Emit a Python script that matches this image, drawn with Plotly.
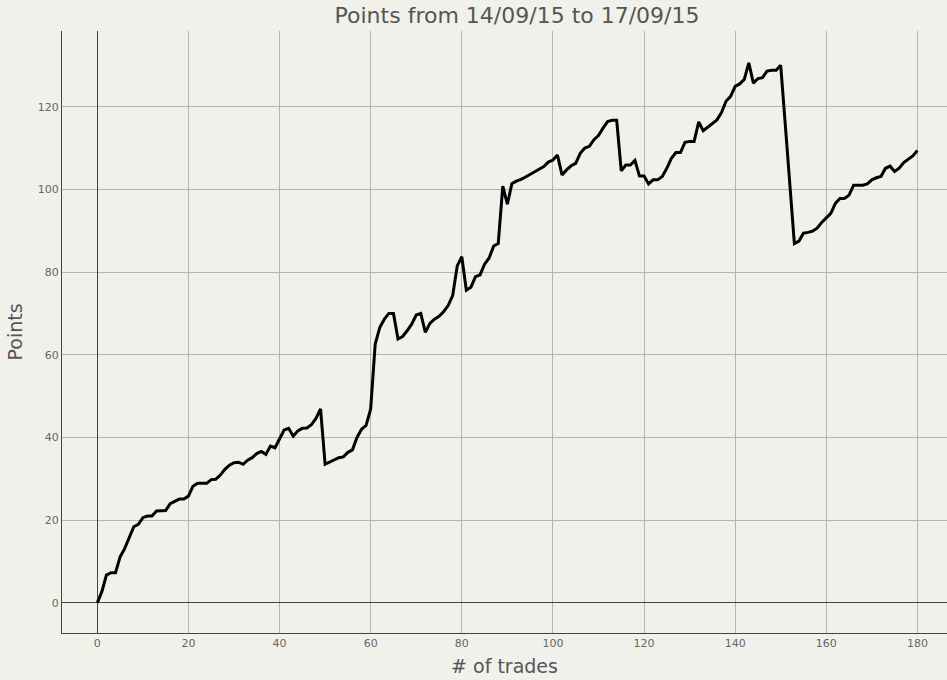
import plotly.graph_objects as go

trades = list(range(0, 181))

points = [
    0, 2.7, 6.7, 7.3, 7.3, 11.1, 13.1, 16, 18.4, 19,
    20.6, 21, 21, 22.2, 22.3, 22.3, 24, 24.6, 25.1, 25.1,
    25.8, 28.2, 28.9, 28.9, 28.9, 29.8, 29.9, 30.9, 32.3, 33.3,
    33.9, 34, 33.5, 34.5, 35.1, 36.1, 36.6, 35.9, 37.9, 37.5,
    39.5, 41.8, 42.2, 40.3, 41.6, 42.2, 42.3, 43.1, 44.6, 46.9,
    33.5, 34, 34.6, 35.1, 35.3, 36.4, 37, 40, 42, 42.9,
    46.9, 62.6, 66.6, 68.6, 70, 70, 63.8, 64.4, 65.8, 67.4,
    69.6, 70, 65.4, 67.6, 68.6, 69.3, 70.4, 71.9, 74.3, 81.5,
    83.7, 75.6, 76.3, 78.9, 79.3, 81.9, 83.4, 86.3, 86.9, 100.8,
    96.4, 101.4, 102, 102.4, 103, 103.6, 104.2, 104.7, 105.5, 106.6,
    107.1, 108.3, 103.5, 104.7, 105.7, 106.3, 108.7, 110, 110.4, 112,
    113, 114.8, 116.4, 116.7, 116.7, 104.5, 105.9, 105.9, 107, 103.2,
    103.2, 101.3, 102.3, 102.3, 103.1, 105.1, 107.5, 108.9, 108.9, 111.4,
    111.6, 111.6, 116.3, 114.2, 115, 115.9, 116.8, 118.6, 121.3, 122.5,
    124.9, 125.5, 126.6, 130.6, 125.7, 126.8, 127, 128.6, 128.8, 128.8,
    130, 115.7, 101.3, 86.9, 87.5, 89.4, 89.6, 89.9, 90.6, 92,
    93.1, 94.2, 96.6, 97.8, 97.8, 98.6, 101, 101, 101, 101.3,
    102.3, 102.8, 103.1, 105.1, 105.6, 104.3, 105.1, 106.5, 107.3, 108.1,
    109.4,
]

title_text = "Points from 14/09/15 to 17/09/15"

bg = "#f1f1ec"
font_family = "DejaVu Sans, Verdana, sans-serif"

trace = go.Scatter(x=trades, y=points, mode="lines",
                   line=dict(color="black", width=3), showlegend=False)

fig = go.Figure(data=[trace])
fig.update_layout(
    width=947, height=680,
    paper_bgcolor=bg, plot_bgcolor=bg,
    margin=dict(l=62, r=0, t=31, b=47),
    font=dict(family=font_family, color="#555555"),
    title=dict(text=title_text, x=0.546, xanchor="center", y=0.978, yanchor="middle",
               font=dict(size=22, color="#555555")),
)
fig.update_xaxes(
    range=[-7.75, 186.5], dtick=20, showgrid=True, gridcolor="#b5b5b5", gridwidth=1,
    zeroline=True, zerolinecolor="#444444", zerolinewidth=1,
    showline=True, linecolor="#444444", linewidth=1, ticks="",
    tickfont=dict(size=11, color="#666666"),
    title=dict(text="# of trades", font=dict(size=19, color="#555555"), standoff=10),
)
fig.update_yaxes(
    range=[-7.3, 138.3], dtick=20, showgrid=True, gridcolor="#b5b5b5", gridwidth=1,
    zeroline=True, zerolinecolor="#444444", zerolinewidth=1,
    showline=True, linecolor="#444444", linewidth=1, ticks="",
    tickfont=dict(size=11, color="#666666"),
    title=dict(text="Points", font=dict(size=19, color="#555555"), standoff=10),
)

fig.write_html("out.html", config={"displayModeBar": False},
               post_script="document.body.style.margin='0';document.body.style.overflow='hidden';")
